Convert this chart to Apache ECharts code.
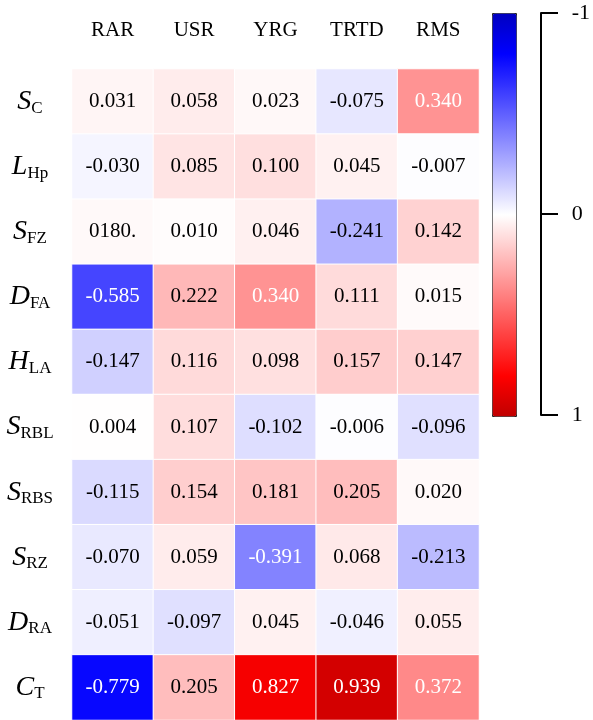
<!DOCTYPE html>
<html>
<head>
<meta charset="utf-8">
<script src="https://cdn.jsdelivr.net/npm/echarts@6/dist/echarts.min.js"></script>
<style>
html,body{margin:0;padding:0;background:#fff;}
#chart{width:593px;height:720px;}
</style>
</head>
<body>
<div id="chart"></div>
<script>
// Columns (top labels)
var columns = ['RAR', 'USR', 'YRG', 'TRTD', 'RMS'];
// Row labels: main italic letter and subscript
var rowMain = ['S', 'L', 'S', 'D', 'H', 'S', 'S', 'S', 'D', 'C'];
var rowSub  = ['C', 'Hp', 'FZ', 'FA', 'LA', 'RBL', 'RBS', 'RZ', 'RA', 'T'];
// Correlation values, one array per row
var rowSC   = [0.031, 0.058, 0.023, -0.075, 0.340];
var rowLHp  = [-0.030, 0.085, 0.100, 0.045, -0.007];
var rowSFZ  = [0.018, 0.010, 0.046, -0.241, 0.142];
var rowDFA  = [-0.585, 0.222, 0.340, 0.111, 0.015];
var rowHLA  = [-0.147, 0.116, 0.098, 0.157, 0.147];
var rowSRBL = [0.004, 0.107, -0.102, -0.006, -0.096];
var rowSRBS = [-0.115, 0.154, 0.181, 0.205, 0.020];
var rowSRZ  = [-0.070, 0.059, -0.391, 0.068, -0.213];
var rowDRA  = [-0.051, -0.097, 0.045, -0.046, 0.055];
var rowCT   = [-0.779, 0.205, 0.827, 0.939, 0.372];
var matrix = [rowSC, rowLHp, rowSFZ, rowDFA, rowHLA, rowSRBL, rowSRBS, rowSRZ, rowDRA, rowCT];
// Text shown in cells where it differs from the value (as printed in the source)
var textOverride = { '2,0': '0180.' };
// Colour bar ticks
var barTicks = [-1, 0, 1];

var rowNames = rowMain.map(function (m, i) { return m + '_' + rowSub[i]; });
var data = [];
matrix.forEach(function (row, r) {
  row.forEach(function (v, c) {
    data.push({
      value: [c, r, v],
      label: { color: Math.abs(v) > 0.3 ? '#ffffff' : '#000000' }
    });
  });
});

var serif = 'Liberation Serif, Times New Roman, serif';
var chart = echarts.init(document.getElementById('chart'));
chart.setOption({
  backgroundColor: '#ffffff',
  animation: false,
  grid: [
    { left: 72, top: 69, width: 407, height: 651 },
    { left: 541, top: 13, width: 1, height: 402 }
  ],
  xAxis: [
    {
      type: 'category', data: columns, position: 'top', gridIndex: 0,
      axisLine: { show: false }, axisTick: { show: false }, splitLine: { show: false },
      axisLabel: { fontFamily: serif, fontSize: 21, color: '#000', margin: 28 }
    },
    { type: 'value', gridIndex: 1, show: false }
  ],
  yAxis: [
    {
      type: 'category', data: rowNames, inverse: true, gridIndex: 0,
      axisLine: { show: false }, axisTick: { show: false }, splitLine: { show: false },
      axisLabel: {
        align: 'center', margin: 42,
        formatter: function (val, idx) {
          return '{i|' + rowMain[idx] + '}{s|' + rowSub[idx] + '}';
        },
        rich: {
          i: { fontFamily: serif, fontStyle: 'italic', fontSize: 28, color: '#000' },
          s: { fontFamily: serif, fontSize: 17, color: '#000', padding: [13, 0, 0, 0] }
        }
      }
    },
    {
      type: 'value', gridIndex: 1, min: -1, max: 1, interval: 1, inverse: true,
      position: 'right',
      axisLine: { show: true, lineStyle: { color: '#000', width: 2 } },
      axisTick: { show: true, length: 17, lineStyle: { color: '#000', width: 2 } },
      splitLine: { show: false },
      axisLabel: {
        fontFamily: serif, fontSize: 22, color: '#000', margin: 30,
        customValues: barTicks
      }
    }
  ],
  visualMap: {
    type: 'continuous', min: -1, max: 1, inverse: true, calculable: false,
    seriesIndex: 0, orient: 'vertical', left: 492, top: 13,
    itemWidth: 24, itemHeight: 403, text: null, showLabel: false,
    padding: 0, borderWidth: 1, borderColor: '#222',
    inRange: {
      color: ['#0000c0', '#0000ff', '#4040ff', '#8080ff', '#bfbfff', '#ffffff',
              '#ffbfbf', '#ff8080', '#ff4040', '#ff0000', '#c00000']
    }
  },
  series: [{
    type: 'heatmap', xAxisIndex: 0, yAxisIndex: 0, data: data,
    itemStyle: { borderColor: '#ffffff', borderWidth: 1 },
    label: {
      show: true, fontFamily: serif, fontSize: 21,
      formatter: function (p) {
        var key = p.value[1] + ',' + p.value[0];
        return textOverride[key] !== undefined ? textOverride[key] : p.value[2].toFixed(3);
      }
    },
    emphasis: { disabled: true }
  }]
});
</script>
</body>
</html>
